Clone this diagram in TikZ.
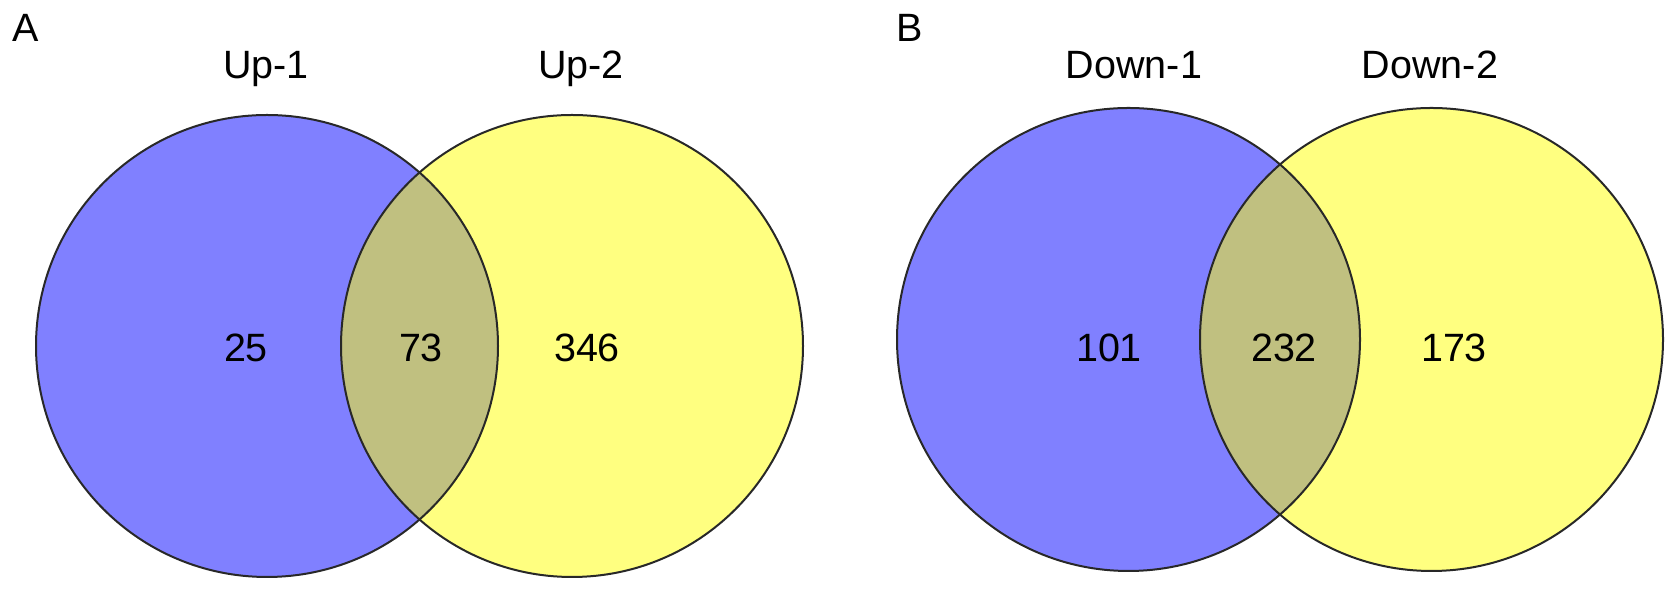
\documentclass[tikz,border=0pt]{standalone}
\usepackage{fontspec}
\setmainfont{Liberation Sans}
\definecolor{setblue}{RGB}{128,128,255}
\definecolor{setyellow}{RGB}{255,255,128}
\definecolor{setlens}{RGB}{192,192,128}
\definecolor{edgecol}{RGB}{40,40,40}
\tikzset{
  setcircle/.style={circle, inner sep=0pt, outer sep=0pt, draw=edgecol, line width=1pt},
  lbl/.style={anchor=base, inner sep=0pt, font=\fontsize{19.75pt}{23pt}\selectfont},
  panel/.style={anchor=base west, inner sep=0pt, font=\fontsize{19.75pt}{23pt}\selectfont},
}
\begin{document}
\begin{tikzpicture}[x=0.5pt,y=0.5pt]
\useasboundingbox (0,0) rectangle (1677,593);
% ---------- Panel A ----------
\fill[setblue] (267,247) circle[radius=231];
\fill[setyellow] (572,247) circle[radius=231];
\begin{scope}
  \clip (267,247) circle[radius=231];
  \fill[setlens] (572,247) circle[radius=231];
\end{scope}
\node[setcircle, minimum size=231pt] (a1) at (267,247) {};
\node[setcircle, minimum size=231pt] (a2) at (572,247) {};
\node[panel] (pa) at (12,551) {A};
\node[lbl] (la1) at (266,514) {Up-1};
\node[lbl] (la2) at (581,514) {Up-2};
\node[lbl] (na1) at (246,231) {25};
\node[lbl] (na12) at (421,231) {73};
\node[lbl] (na2) at (587,231) {346};
% ---------- Panel B ----------
\fill[setblue] (1128.5,253.5) circle[radius=231.5];
\fill[setyellow] (1431.5,253.5) circle[radius=231.5];
\begin{scope}
  \clip (1128.5,253.5) circle[radius=231.5];
  \fill[setlens] (1431.5,253.5) circle[radius=231.5];
\end{scope}
\node[setcircle, minimum size=231.5pt] (b1) at (1128.5,253.5) {};
\node[setcircle, minimum size=231.5pt] (b2) at (1431.5,253.5) {};
\node[panel] (pb) at (896,551) {B};
\node[lbl] (lb1) at (1134,514) {Down-1};
\node[lbl] (lb2) at (1430,514) {Down-2};
\node[lbl] (nb1) at (1109,231) {101};
\node[lbl] (nb12) at (1284,231) {232};
\node[lbl] (nb2) at (1454,231) {173};
\end{tikzpicture}
\end{document}
